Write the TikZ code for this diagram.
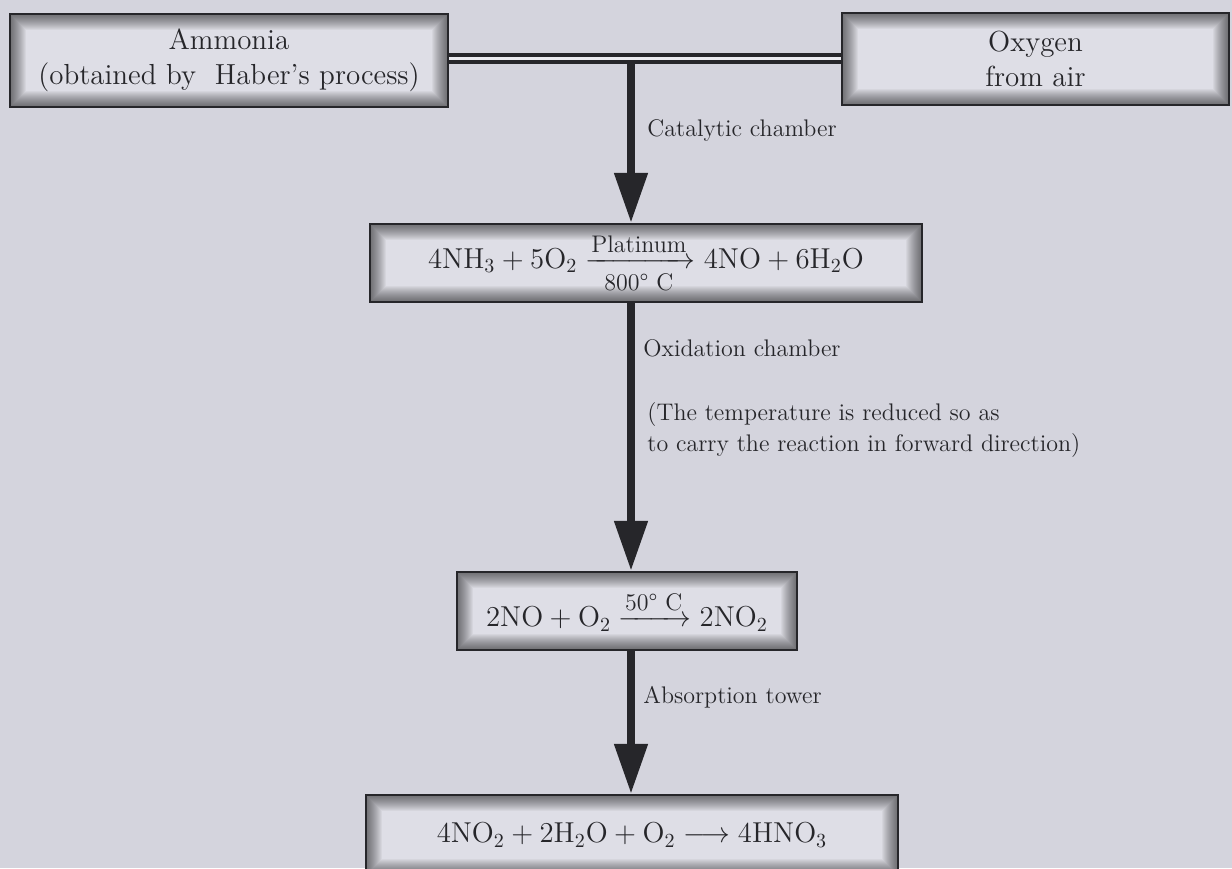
\documentclass[tikz,border=0pt]{standalone}
\usepackage{amsmath}
\usepackage{tikz}
\usetikzlibrary{arrows.meta}
\definecolor{pagebg}{RGB}{212,212,221}
\definecolor{boxbg}{RGB}{222,222,230}
\definecolor{ink}{RGB}{38,38,42}
\newcommand{\arrowlabel}[1]{\text{\fontsize{12}{12}\selectfont #1}}

\begin{document}
\begin{tikzpicture}[x=0.5pt, y=-0.5pt,
  chembox/.style={draw=ink, line width=1.2pt, fill=boxbg, text=ink, align=center, inner sep=0pt,
    font=\fontsize{14.5}{17.5}\selectfont,
    path picture={\foreach \w in {1,...,16}
      \draw[line width=\w pt, black, opacity=0.04] (path picture bounding box.south west) rectangle (path picture bounding box.north east);}},
  note/.style={anchor=west, inner sep=0pt, text=ink, align=left, font=\fontsize{12}{15.5}\selectfont},
  flow/.style={draw=ink, line width=4pt, -{Triangle[width=16pt,length=25pt]}},
  pipe/.style={draw=ink, line width=2pt, double=boxbg!60!white, double distance=1.5pt},
]
\clip (0,0) rectangle (1232,868);
\fill[pagebg] (0,0) rectangle (1232,868);

% starting materials
\node[chembox, minimum width=219pt, minimum height=46.5pt] (ammonia) at (229,60.5) {Ammonia\\(obtained by\ \ Haber's process)};
\node[chembox, minimum width=193.5pt, minimum height=46pt] (oxygen) at (1035.5,59) {Oxygen\\from air};

% reactions
\node[chembox, minimum width=276pt, minimum height=39pt] (oxid) at (646,263)
  {$\mathrm{4NH_3 + 5O_2 \xrightarrow[\arrowlabel{800\textdegree\ C}]{\arrowlabel{Platinum}} 4NO + 6H_2O}$};
\node[chembox, minimum width=170pt, minimum height=39pt] (dioxide) at (627,611)
  {$\mathrm{2NO + O_2 \xrightarrow{\arrowlabel{50\textdegree\ C}} 2NO_2}$};
\node[chembox, minimum width=266pt, minimum height=40pt] (acid) at (632,835)
  {$\mathrm{4NO_2 + 2H_2O + O_2 \longrightarrow 4HNO_3}$};

% connectors
\coordinate (join) at (631,58);
\draw[flow] (join) -- (oxid.north -| join);
\draw[pipe] (ammonia.east |- join) -- (oxygen.west |- join);
\draw[flow] (oxid.south -| join) -- (dioxide.north -| join);
\draw[flow] (dioxide.south -| join) -- (acid.north -| join);

% labels
\node[note] (catalytic) at (647,130) {Catalytic chamber};
\node[note] (oxidation) at (643,348) {Oxidation chamber};
\node[note] (cooling) at (647,430) {(The temperature is reduced so as\\to carry the reaction in forward direction)};
\node[note] (absorption) at (643,697) {Absorption tower};
\end{tikzpicture}
\end{document}
